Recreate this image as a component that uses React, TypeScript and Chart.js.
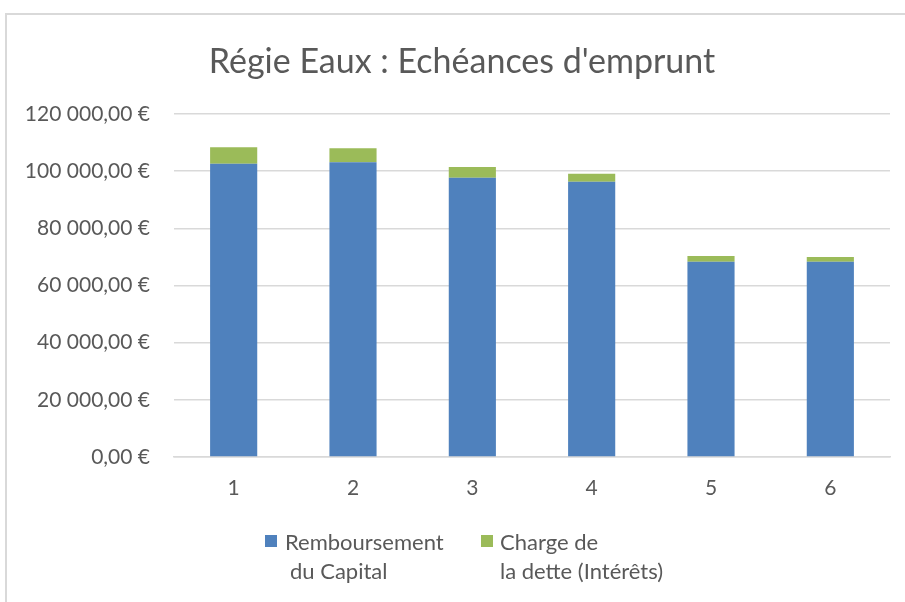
import React, { useEffect, useRef } from "react";
import { Chart, registerables } from "chart.js";

Chart.register(...registerables);

const categories = ["1", "2", "3", "4", "5", "6"];
const capital = [102600, 103100, 97700, 96300, 68300, 68300];
const interets = [5750, 4900, 3800, 2800, 2000, 1650];
const yTicks = [0, 20000, 40000, 60000, 80000, 100000, 120000];
const titleText = "Régie Eaux : Echéances d'emprunt";
const legendCapital = ["Remboursement", "du Capital"];
const legendInterets = ["Charge de", "la dette (Intérêts)"];

const FONT = "Lato, 'Open Sans', sans-serif";
const TEXT = "#595959";
const BLUE = "#4F81BD";
const GREEN = "#9BBB59";

function fmt(v: number): string {
  const fixed = v.toFixed(2).replace(".", ",");
  const [ip, dp] = fixed.split(",");
  const withSp = ip.replace(/\B(?=(\d{3})+(?!\d))/g, " ");
  return withSp + "," + dp + " €";
}

export default function App() {
  const ref = useRef<HTMLCanvasElement | null>(null);

  useEffect(() => {
    document.body.style.margin = "0";
    const ctx = ref.current!;
    const chart = new Chart(ctx, {
      type: "bar",
      data: {
        labels: categories,
        datasets: [
          {
            label: legendCapital.join(" "),
            data: capital,
            backgroundColor: BLUE,
            categoryPercentage: 1,
            barPercentage: 0.395,
          },
          {
            label: legendInterets.join(" "),
            data: interets,
            backgroundColor: GREEN,
            categoryPercentage: 1,
            barPercentage: 0.395,
          },
        ],
      },
      options: {
        animation: false,
        responsive: false,
        maintainAspectRatio: false,
        layout: { padding: { left: 0, right: 15, top: 114, bottom: 0 } },
        plugins: {
          legend: { display: false },
          title: { display: false },
          tooltip: { enabled: false },
        },
        scales: {
          x: {
            stacked: true,
            grid: { display: false, drawTicks: false },
            border: { display: true, color: "#D9D9D9", width: 1.5 },
            ticks: {
              color: TEXT,
              font: { family: FONT, size: 21 },
              padding: 19,
            },
            afterFit: (s: any) => {
              s.height = 145;
            },
          },
          y: {
            stacked: true,
            min: 0,
            max: 120000,
            afterBuildTicks: (s: any) => {
              s.ticks = yTicks.map((v) => ({ value: v }));
            },
            grid: { color: "#D9D9D9", lineWidth: 1.5, drawTicks: false },
            border: { display: false },
            ticks: {
              color: TEXT,
              font: { family: FONT, size: 21 },
              padding: 24,
              callback: (v: any) => fmt(Number(v)),
            },
            afterFit: (s: any) => {
              s.width = 174;
            },
          },
        },
      },
    });
    return () => chart.destroy();
  }, []);

  const textStyle: React.CSSProperties = {
    position: "absolute",
    fontFamily: FONT,
    color: TEXT,
    fontSize: 22,
    lineHeight: "29px",
    whiteSpace: "nowrap",
  };

  return (
    <div style={{ position: "absolute", left: 0, top: 0, width: 905, height: 602, background: "#fff", overflow: "hidden" }}>
      <div style={{ position: "absolute", left: 5, top: 13, width: 900, height: 1.5, background: "#D9D9D9" }} />
      <div style={{ position: "absolute", left: 5, top: 13, width: 1.5, height: 589, background: "#D9D9D9" }} />
      <canvas ref={ref} width={905} height={602} style={{ position: "absolute", left: 0, top: 0, width: 905, height: 602 }} />
      <div
        style={{
          position: "absolute",
          left: 0,
          width: 924,
          top: 38,
          textAlign: "center",
          fontFamily: FONT,
          color: TEXT,
          fontSize: 34,
          lineHeight: "44px",
          whiteSpace: "nowrap",
        }}
      >
        {titleText}
      </div>
      <div style={{ position: "absolute", left: 265, top: 535, width: 12, height: 12, background: BLUE }} />
      <div style={{ ...textStyle, left: 285, top: 527 }}>{legendCapital[0]}</div>
      <div style={{ ...textStyle, left: 290, top: 556 }}>{legendCapital[1]}</div>
      <div style={{ position: "absolute", left: 481, top: 535, width: 12, height: 12, background: GREEN }} />
      <div style={{ ...textStyle, left: 500, top: 527 }}>{legendInterets[0]}</div>
      <div style={{ ...textStyle, left: 500, top: 556 }}>{legendInterets[1]}</div>
    </div>
  );
}
